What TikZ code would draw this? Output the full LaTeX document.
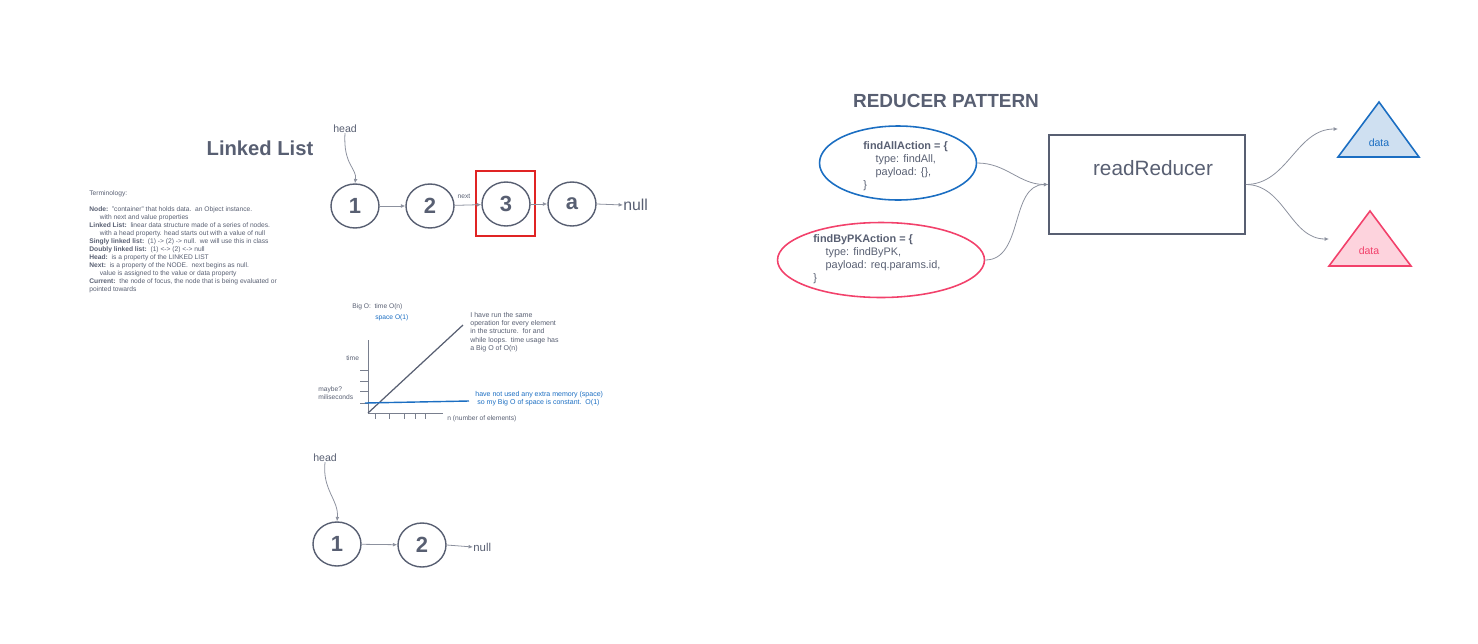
\documentclass[tikz,border=0pt]{standalone}
\usepackage{fontspec}
\setmainfont{Liberation Sans}
\usetikzlibrary{shapes.geometric}
\usetikzlibrary{arrows.meta}
\definecolor{ink}{HTML}{585F72}
\definecolor{wire}{HTML}{8C919E}
\definecolor{actblue}{HTML}{1B6EC2}
\definecolor{blueshade}{HTML}{CFE0F1}
\definecolor{actpink}{HTML}{F2416B}
\definecolor{pinkshade}{HTML}{FDD3DD}
\definecolor{focusred}{HTML}{E02424}

\begin{document}
\begin{tikzpicture}[x=0.02cm,y=-0.02cm,
  lnode/.style={ellipse,draw=ink,line width=0.8pt,minimum width=0.96cm,minimum height=0.88cm,inner sep=0pt,text=ink,font=\fontsize{12.5}{13}\selectfont\bfseries},
  link/.style={draw=wire,line width=0.45pt,-{Latex[length=2.5pt,width=2.2pt]}},
  tiny/.style={text=ink,inner sep=0pt,font=\fontsize{3.8}{4.55}\selectfont,align=left},
  note/.style={text=ink,inner sep=0pt,font=\fontsize{4}{4.7}\selectfont,align=left},
  small/.style={text=ink,inner sep=0pt,font=\fontsize{6}{7}\selectfont},
  nullword/.style={text=ink,inner sep=0pt,font=\fontsize{9}{9}\selectfont,anchor=west},
  axis/.style={draw=ink!80,line width=0.5pt},
  acttext/.style={text=ink,inner sep=0pt,anchor=north west,align=left,font=\fontsize{6.2}{7.4}\selectfont},
  datatri/.style={line width=0.9pt,line join=miter}]
\useasboundingbox (0,0) rectangle (1478,643);

% first list
\node[text=ink,font=\fontsize{11.5}{12}\selectfont\bfseries] (lltitle) at (260,148) {Linked List};
\node[small] (head1) at (345,129) {head};
\node[lnode] (n1) at (355,206) {1};
\node[lnode] (n2) at (430,206) {2};
\node[lnode] (n3) at (506,204) {3};
\node[lnode] (na) at (572,204) {a};
\node[nullword] (null1) at (623,205) {null};
\node[draw=focusred,line width=0.8pt,minimum width=1.18cm,minimum height=1.3cm] (focus) at (505.5,203.5) {};
\node[tiny] (nextlbl) at (464,196) {next};
\draw[link] (head1.south) .. controls (343,165) and (357,168) .. (n1.north);
\draw[link] (n1) -- (n2);
\draw[link] (n2) -- (n3);
\draw[link] (n3) -- (na);
\draw[link] (na.east) -- (null1.west);

% terminology
\node[tiny,anchor=north west] (terms) at (89,190) {Terminology:\\[4.5pt]
\textbf{Node:}\ \ "container" that holds data.\ \ an Object instance.\\
\hspace*{6pt}with next and value properties\\
\textbf{Linked List:}\ \ linear data structure made of a series of nodes.\\
\hspace*{6pt}with a head property. head starts out with a value of null\\
\textbf{Singly linked list:}\ \ (1) -> (2) -> null.\ \ we will use this in class\\
\textbf{Doubly linked list:}\ \ (1) <-> (2) <-> null\\
\textbf{Head:}\ \ is a property of the LINKED LIST\\
\textbf{Next:}\ \ is a property of the NODE.\ \ next begins as null.\\
\hspace*{6pt}value is assigned to the value or data property\\
\textbf{Current:}\ \ the node of focus, the node that is being evaluated or\\
pointed towards};

% big O chart
\node[tiny,anchor=west] (bigo) at (352,307) {Big O:\ \ time O(n)};
\node[tiny,anchor=west,text=actblue] (spaceo) at (375,318) {space O(1)};
\coordinate (origin) at (368,413);
\draw[axis] (368,340) -- (origin) -- (443,413);
\foreach \ty in {370,381,391,403} \draw[axis] (360,\ty) -- (368,\ty);
\foreach \tx in {375,389,404,415,425} \draw[axis] (\tx,414) -- (\tx,419);
\draw[ink,line width=0.7pt] (origin) -- (463,325);
\draw[actblue,line width=0.8pt] (365,403) -- (469,401);
\node[tiny,anchor=west] (timelbl) at (346,358) {time};
\node[tiny,anchor=west] (msl) at (318,393) {maybe?\\miliseconds};
\node[note,anchor=north west] (timenote) at (470,312) {I have run the same\\operation for every element\\in the structure.\ \ for and\\while loops.\ \ time usage has\\a Big O of O(n)};
\node[note,anchor=west,text=actblue] (spacenote) at (475,399) {have not used any extra memory (space)\\\ so my Big O of space is constant.\ \ O(1)};
\node[tiny,anchor=west] (nlbl) at (447,419) {n (number of elements)};

% second list
\node[small] (head2) at (325,458) {head};
\node[lnode] (m1) at (337,544) {1};
\node[lnode] (m2) at (422,545) {2};
\node[nullword,font=\fontsize{6.5}{6.5}\selectfont] (null2) at (473,547) {null};
\draw[link] (head2.south) .. controls (322,490) and (339,500) .. (m1.north);
\draw[link] (m1) -- (m2);
\draw[link] (m2.east) -- (null2.west);

% reducer pattern
\node[text=ink,font=\fontsize{10.8}{11}\selectfont\bfseries] (rtitle) at (946,101) {REDUCER PATTERN};
\node[ellipse,draw=actblue,line width=0.9pt,minimum width=3.14cm,minimum height=1.48cm] (allact) at (898,163) {};
\node[acttext] (alltxt) at (863,141) {\textbf{findAllAction = \{}\\\hspace*{7pt}type: findAll,\\\hspace*{7pt}payload: \{\},\\\}};
\node[ellipse,draw=actpink,line width=0.9pt,minimum width=4.14cm,minimum height=1.5cm] (pkact) at (881,260) {};
\node[acttext] (pktxt) at (813,234) {\textbf{findByPKAction = \{}\\\hspace*{7pt}type: findByPK,\\\hspace*{7pt}payload: req.params.id,\\\}};
\node[draw=ink,line width=0.9pt,minimum width=3.92cm,minimum height=1.98cm] (reducer) at (1147,184.5) {};
\node[text=ink,font=\fontsize{11.8}{12}\selectfont] (rlbl) at (1153,168) {readReducer};
\draw[link] (allact.east) to[out=0,in=180] (reducer.west);
\draw[link] (pkact.east) to[out=0,in=180] (reducer.west);

% outputs
\coordinate (alldata) at (1338,129);
\coordinate (pkdata) at (1329,239);
\draw[datatri,draw=actblue,fill=blueshade] (1379,102) -- (1419,157) -- (1338,157) -- cycle;
\node[text=actblue,inner sep=0pt,font=\fontsize{6}{6}\selectfont] (alllbl) at (1379,143) {data};
\draw[datatri,draw=actpink,fill=pinkshade] (1370,211) -- (1411,266) -- (1329,266) -- cycle;
\node[text=actpink,inner sep=0pt,font=\fontsize{6}{6}\selectfont] (pklbl) at (1369,251) {data};
\draw[link] (reducer.east) to[out=0,in=180] (alldata);
\draw[link] (reducer.east) to[out=0,in=180] (pkdata);
\end{tikzpicture}
\end{document}
